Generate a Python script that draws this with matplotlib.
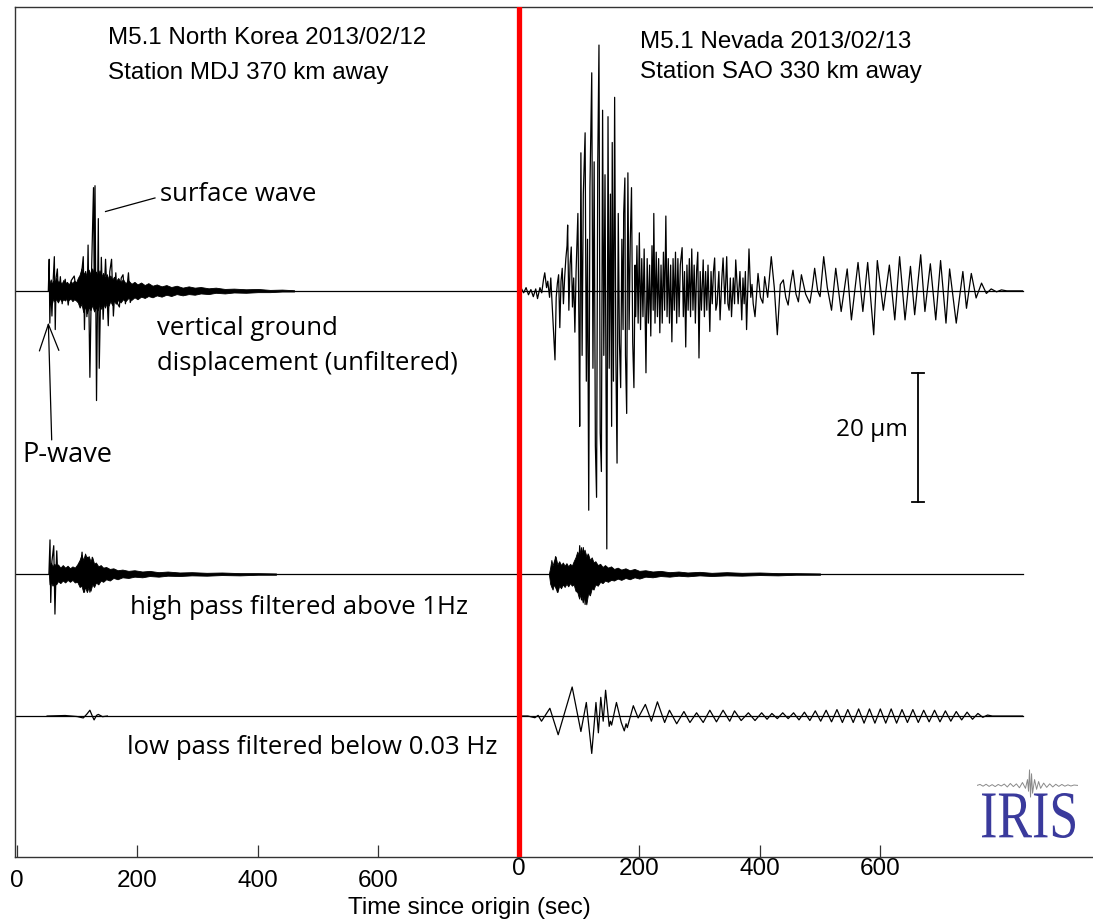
import matplotlib
matplotlib.use('Agg')
import matplotlib.pyplot as plt
from matplotlib.textpath import TextPath
from matplotlib.patches import PathPatch
from matplotlib.font_manager import FontProperties
from matplotlib.transforms import Affine2D, IdentityTransform
import numpy as np

# ---------------- data ----------------
# time (s) since origin, amplitude (micrometres)
SHIFT = 833.0           # start of the right (Nevada) panel in axis units
left_ticks = [0, 200, 400, 600]
right_ticks = [0, 200, 400, 600]

# North Korea, unfiltered: dense envelope (t, high, low) + resolved spikes (t, a)
nk_raw_env = [(53, 0.1, -0.1), (54, 1.2, -1.5), (56, 1.8, -1.0), (58, 1.0, -2.0), (60, 1.6, -1.2),
              (62, 1.2, -1.6), (65, 2.0, -1.3), (68, 1.4, -1.8), (71, 1.5, -1.2), (74, 1.1, -1.6),
              (77, 1.7, -1.3), (80, 1.2, -1.5), (83, 1.4, -1.0), (86, 1.0, -1.4), (89, 1.5, -1.2),
              (92, 1.2, -1.6), (95, 1.6, -1.3), (98, 1.3, -1.5), (101, 2.0, -1.8), (104, 2.5, -2.6),
              (107, 3.5, -2.0), (110, 2.6, -3.3), (113, 3.0, -2.4), (116, 2.2, -3.5), (119, 3.3, -2.5),
              (122, 2.6, -3.0), (125, 3.5, -2.2), (128, 2.5, -3.2), (131, 3.0, -2.6), (134, 2.4, -3.0),
              (137, 3.2, -2.0), (140, 2.2, -2.8), (143, 2.8, -1.9), (146, 2.0, -2.6), (149, 2.6, -1.8),
              (152, 1.8, -2.3), (155, 2.4, -1.6), (158, 1.7, -2.2), (161, 2.2, -1.5), (164, 1.5, -2.0),
              (168, 2.0, -1.4), (172, 1.4, -1.8), (176, 1.8, -1.3), (180, 1.2, -1.6), (185, 1.6, -1.1),
              (190, 1.1, -1.4), (195, 1.4, -1.0), (200, 1.0, -1.3), (206, 1.3, -0.9), (212, 0.9, -1.1),
              (218, 1.2, -0.8), (225, 0.8, -1.0), (232, 1.0, -0.7), (240, 0.7, -0.9), (248, 0.9, -0.6),
              (256, 0.6, -0.8), (265, 0.8, -0.5), (275, 0.5, -0.7), (285, 0.7, -0.5), (295, 0.5, -0.6),
              (305, 0.6, -0.4), (318, 0.4, -0.5), (330, 0.5, -0.3), (345, 0.3, -0.4), (360, 0.35, -0.25),
              (380, 0.25, -0.3), (400, 0.3, -0.2), (420, 0.15, -0.2), (440, 0.2, -0.1), (460, 0.1, -0.1)]
nk_raw_spk = [(52, 0), (53.5, 4.9), (54.5, -5.0), (56, 1.0), (58, -3.9), (60, 1.5),
              (62, 5.3), (63.5, -6.0), (65, 2.0), (67, 3.4), (69, -1.5), (72, 2.2), (75, -2.0),
              (80, 1.8), (85, -2.2), (90, 1.6), (95, 2.3), (100, -1.0), (104, 0.5), (108, 3.4),
              (110, 5.3), (112, -6.0), (114, 3.0), (116, -4.0), (118, 7.1), (121, -13.4), (124, 4.0),
              (127, 16.0), (128.5, -3.0), (129.5, 16.3), (132, -17.0), (135, 11.2), (136.5, -12.0),
              (140, 5.2), (143, -4.4), (147, 4.9), (151.5, -5.4), (154, 3.0), (157, 4.9), (160, -3.9),
              (164, 2.8), (167, -2.0), (170, -2.5), (173, 2.0), (176, 2.5), (180, -2.0), (185, 2.8),
              (188, -1.8), (195, 0)]

# Nevada, unfiltered: peak-to-peak trace (t, a)
nv_raw = [(0, 0), (4, 0.4), (8, -0.3), (12, 0.5), (16, -0.6), (20, 0.2), (24, -0.9), (28, 0.3),
          (31, -1.2), (35, 0.5), (38, -0.3), (41, 1.8), (43, 2.8), (46, 0.5), (48, 1.5), (51, -1.0),
          (53, 2.0), (56, -3.5), (60, -10.7), (62, -1.0), (64, 1.2), (66, 2.5), (68, -5.7),
          (70, 1.5), (72, 3.5), (74, -2.0), (76, 2.0), (78, 5.0), (80, 7.0), (81, 10.2), (83, -3.0),
          (85, 4.0), (87, 6.8), (89, -2.5), (91, 2.0), (93, -6.4), (95, 3.0), (98, 12.0), (100, -8.0),
          (101, -21.0), (103, 21.4), (105, -10.0), (107, 15.0), (110, 24.5), (112, -14.0),
          (114, 8.0), (116, -34.0), (118, 16.0), (121, 33.8), (123, -12.0), (125, 20.0),
          (127, -24.0), (129, -32.0), (131, 20.0), (133, 38.1), (135, -22.0), (137, -28.0),
          (139, 28.0), (141, -10.0), (143, 18.0), (146, -40.0), (148, 27.0), (150, -12.0),
          (152, 15.0), (154, -21.0), (155, 23.0), (157, -14.0), (159, 30.0), (161, -10.0),
          (163, -26.7), (165, 12.0), (167, -8.0), (169, -15.0), (171, 8.0), (173, -6.0), (174, 12.0),
          (176, 17.5), (177, -10.0), (179, -19.0), (181, 18.3), (183, -6.0), (185, 8.0),
          (187, 16.0), (189, -8.0), (191, -15.0), (193, 4.0), (194, -4.0), (196, 7.0), (198, -5.0),
          (200, 9.0), (202, -6.0), (204, 5.0), (206, -4.0), (208, 6.5), (211, -12.7), (213, 5.0),
          (215, -5.0), (217, 4.0), (219, -7.0), (221, 7.0), (223, -3.0), (224, 12.0), (226, -5.0),
          (228, 6.0), (230, -4.0), (232, 5.0), (234, -6.5), (236, 4.0), (238, -5.0), (240, 6.0),
          (242, -3.0), (244, 11.6), (246, -4.0), (248, 5.0), (250, -5.0), (252, 4.0), (254, -7.9),
          (256, 5.0), (258, -3.0), (260, 6.0), (262, -5.0), (264, 5.0), (266, -4.0), (268, 4.0),
          (271, 6.7), (273, -4.0), (275, 3.0), (277, -8.7), (279, 4.0), (281, -3.0), (283, 5.0),
          (285, -4.0), (287, 6.5), (289, -3.0), (291, 4.0), (293, -5.0), (295, 3.0), (297, 6.0),
          (299, -10.4), (301, 3.0), (303, -3.0), (306, 4.8), (308, -4.0), (310, 3.0), (312, -3.0),
          (314, 4.0), (317, -6.3), (319, 3.0), (321, -2.0), (323, 3.0), (325, 5.1), (327, -3.0),
          (329, -2.0), (332, 3.0), (334, -4.5), (337, 2.0), (339, 5.1), (342, -2.0), (345, 5.3),
          (347, -2.0), (349, -3.0), (351, 2.0), (353, -4.0), (356, 2.0), (358, -2.0), (360, 4.8),
          (364, -2.0), (367, 3.0), (370, -4.5), (372, 2.0), (374, -2.0), (376, 3.0), (378, -6.0),
          (382, 6.5), (385, -1.0), (387, 1.0), (389, -2.0), (392, -4.0), (397, 2.7), (401, -1.0),
          (405, -1.9), (408, 2.2), (413, -1.0), (419, 5.3), (424, 0.5), (429, -6.8), (434, 1.0),
          (439, 1.7), (443, -1.0), (447, -2.2), (451, 1.0), (455, 3.2), (460, -0.5), (464, -1.7),
          (469, 2.5), (476, -0.5), (483, -1.9), (487, 0.5), (491, 3.5), (496, 0.0), (500, -0.9),
          (506, 5.3), (512, 0.5), (519, -3.0), (526, 3.5), (535, -3.2), (545, 3.4), (552, -4.5),
          (563, 4.4), (571, -3.2), (579, 4.4), (589, -6.8), (595, 4.7), (605, -3.0), (615, 4.0),
          (624, -4.5), (632, 5.3), (641, -4.5), (650, 3.8), (657, -3.7), (667, 5.6), (674, -3.2),
          (683, 4.2), (692, -4.5), (700, 4.7), (709, -5.0), (715, 3.4), (726, -5.0), (737, 3.0),
          (743, -2.7), (751, 2.7), (759, -1.1), (768, 1.2), (776, -0.4), (784, 0.3), (793, -0.15),
          (801, 0.15), (810, 0), (836, 0)]

# High pass (> 1 Hz)
nk_hp_env = [(53, 0.1, -0.1), (54, 1.2, -1.6), (56, 1.8, -1.2), (59, 1.2, -1.8), (62, 1.6, -1.3),
             (65, 1.2, -1.6), (68, 1.5, -1.1), (72, 1.0, -1.4), (76, 1.4, -1.0), (80, 1.0, -1.3),
             (84, 1.3, -0.9), (88, 0.9, -1.2), (92, 1.2, -0.9), (96, 1.0, -1.3), (100, 1.5, -1.2),
             (104, 2.2, -2.0), (107, 3.0, -1.8), (110, 2.2, -2.8), (113, 3.2, -2.0), (116, 2.4, -2.8),
             (119, 2.8, -2.0), (122, 2.0, -2.6), (125, 2.6, -1.6), (128, 1.6, -2.0), (131, 1.8, -1.3),
             (135, 1.2, -1.6), (139, 1.4, -1.0), (143, 1.0, -1.2), (148, 1.1, -0.8), (154, 0.8, -1.0),
             (160, 0.9, -0.6), (167, 0.6, -0.8), (175, 0.7, -0.5), (185, 0.5, -0.6), (195, 0.6, -0.4),
             (208, 0.4, -0.5), (220, 0.5, -0.3), (235, 0.3, -0.4), (250, 0.4, -0.25), (270, 0.25, -0.3),
             (290, 0.3, -0.2), (315, 0.2, -0.25), (340, 0.25, -0.15), (370, 0.15, -0.2),
             (400, 0.15, -0.1), (430, 0.1, -0.1)]
nk_hp_spk = [(53, 0), (54.8, 5.3), (56, -4.4), (58, 2.0), (61, 4.4), (63, -6.2), (65, 1.0),
             (66, 3.6), (68, -1.0), (105, 0.5), (108, 3.4), (112, -2.8), (117, 2.6),
             (121, -2.8), (125, 2.6), (128, -1.0)]
nv_hp_env = [(50, 0.1, -0.1), (52, 1.0, -1.5), (54, 2.2, -2.0), (56, 1.3, -2.4), (58, 2.0, -1.6),
             (61, 2.7, -2.2), (64, 1.5, -2.8), (67, 2.0, -1.8), (70, 1.4, -2.2), (73, 1.8, -1.6),
             (76, 1.3, -2.0), (79, 1.7, -1.5), (82, 1.2, -1.9), (85, 1.6, -1.4), (88, 1.3, -1.8),
             (91, 2.0, -1.6), (94, 2.6, -2.6), (97, 3.5, -2.8), (100, 2.8, -3.8), (103, 4.2, -3.0),
             (106, 3.2, -4.4), (109, 3.8, -3.5), (112, 2.8, -4.7), (115, 3.1, -3.0), (118, 2.2, -3.3),
             (121, 2.6, -2.2), (124, 1.8, -2.4), (127, 2.0, -1.6), (131, 1.4, -1.8), (135, 1.6, -1.2),
             (139, 1.1, -1.4), (143, 1.4, -1.0), (148, 1.0, -1.2), (153, 1.2, -0.9), (158, 0.8, -1.0),
             (164, 1.0, -0.7), (170, 0.7, -0.9), (177, 0.9, -0.6), (184, 0.6, -0.8), (192, 0.8, -0.5),
             (200, 0.5, -0.7), (210, 0.6, -0.4), (222, 0.4, -0.5), (235, 0.5, -0.3), (250, 0.3, -0.4),
             (265, 0.4, -0.25), (280, 0.25, -0.35), (300, 0.35, -0.2), (320, 0.2, -0.3),
             (345, 0.3, -0.2), (370, 0.2, -0.25), (400, 0.25, -0.15), (430, 0.15, -0.2),
             (460, 0.15, -0.1), (500, 0.1, -0.1)]
nv_hp_spk = [(58, 0), (61, 2.7), (64, -2.8), (67, 0), (99, 0), (101, 4.4), (104, -4.0),
             (107, 4.1), (110, -4.7), (115, 3.1), (118, 0)]

# Low pass (< 0.03 Hz)
nk_lp = [(50, 0), (80, 0.08), (100, -0.08), (110, -0.3), (116, 0.3), (121, 0.9), (125, 0.0),
         (128, -0.6), (132, 0.1), (135, 0.25), (142, -0.1), (150, 0)]
nv_lp = [(0, 0), (15, 0), (26.6, -0.26), (32, 0.1), (37.6, -0.8), (51.5, 1.2), (65.3, -2.9),
         (88.5, 4.5), (103, -2.4), (112, 2.1), (121, -5.8), (128, 2.1), (132, -2.6), (136, 2.9),
         (140, -0.8), (144, 4.0), (150, -1.6), (152, -0.8), (154, -1.4), (162, 2.1), (170, -1.0),
         (175, -2.3), (178, -1.2), (180, -1.8), (190, 1.6), (198, -0.3), (210, 1.8), (220, -0.8),
         (230, 2.2), (242, -1.0), (250, 0.9), (262, -1.2), (274, 0.7), (284, -1.0), (295, 0.5),
         (306, -1.0), (317, 0.9), (328, -0.9), (339, 0.9), (350, -0.8), (358, 0.8), (369, -0.7),
         (381, 0.5), (392, -0.7), (403, 0.5), (412, -0.5), (420, 0.4), (429, -0.4), (438, 0.5),
         (447, -0.4), (456, 0.5), (465, -0.6), (474, 0.6), (483, -0.7), (492, 0.8), (501, -0.8),
         (510, 0.9), (519, -0.9), (528, 1.0), (537, -1.0), (546, 1.0), (555, -1.0), (564, 1.1),
         (573, -1.1), (582, 1.1), (591, -1.1), (600, 1.1), (609, -1.1), (618, 1.1), (627, -1.1),
         (636, 1.0), (645, -1.0), (654, 1.0), (663, -1.0), (672, 0.9), (681, -0.9), (690, 0.9),
         (699, -0.9), (708, 0.8), (717, -0.8), (726, 0.7), (735, -0.6), (744, 0.6), (753, -0.5),
         (762, 0.4), (770, -0.2), (778, 0.15), (786, 0), (836, 0)]

# tiny waveform on the IRIS logo
logo_wave = [(0, 0), (3, 0.5), (6, -0.4), (9, 0.6), (12, -0.5), (15, 0.4), (18, -0.6), (21, 0.5),
             (24, -0.3), (27, 0.7), (30, -0.8), (33, 1.0), (36, -0.6), (39, 0.8), (42, -1.2),
             (45, 1.5), (48, -1.5), (50, 3), (51, -3), (52, 8), (53, -6), (54, 6), (55, -4),
             (57, 3), (59, -2), (61, 2), (63, -1.5), (66, 1.2), (69, -1), (72, 0.8), (75, -0.8),
             (78, 0.6), (81, -0.5), (84, 0.5), (87, -0.4), (90, 0.3), (93, -0.3), (96, 0.2), (100, 0)]

# ---------------- figure ----------------
W, H = 1093, 922
fig = plt.figure(figsize=(W / 100, H / 100), dpi=100)
ax = fig.add_axes([15 / W, 1 - 857 / H, 1 - 15 / W, (857 - 7) / H])
ax.set_xlim(-3.3, 1786)
ax.set_ylim(-87.75, 44.0)

BASE_RAW, BASE_HP, BASE_LP = 0.0, -43.9, -65.9
LEFT_END = SHIFT
RIGHT_END = SHIFT + 836
LW = 0.9


def trace(pairs, shift, base):
    t = np.array([p[0] for p in pairs]) + shift
    a = np.array([p[1] for p in pairs]) + base
    ax.plot(t, a, color='black', lw=LW, zorder=3)


def envelope(rows, shift, base):
    t = np.array([r[0] for r in rows]) + shift
    hi = np.array([r[1] for r in rows]) + base
    lo = np.array([r[2] for r in rows]) + base
    ax.fill_between(t, lo, hi, color='black', lw=0.6, zorder=3)


for base in (BASE_RAW, BASE_HP, BASE_LP):
    ax.plot([-3.3, LEFT_END], [base, base], color='black', lw=LW, zorder=2)
    ax.plot([SHIFT, RIGHT_END], [base, base], color='black', lw=LW, zorder=2)

envelope(nk_raw_env, 0, BASE_RAW)
trace(nk_raw_spk, 0, BASE_RAW)
trace(nv_raw, SHIFT, BASE_RAW)
envelope(nk_hp_env, 0, BASE_HP)
trace(nk_hp_spk, 0, BASE_HP)
envelope(nv_hp_env, SHIFT, BASE_HP)
trace(nv_hp_spk, SHIFT, BASE_HP)
trace(nk_lp, 0, BASE_LP)
trace(nv_lp, SHIFT, BASE_LP)

# red divider
ax.axvline(SHIFT, color='#ff0000', lw=3.8, zorder=5)

# scale bar 20 micrometres
sb_t, sb_top, sb_bot = SHIFT + 662, -12.7, -32.7
ax.plot([sb_t, sb_t], [sb_top, sb_bot], color='black', lw=1.3)
ax.plot([sb_t - 10, sb_t + 10], [sb_top, sb_top], color='black', lw=1.3)
ax.plot([sb_t - 10, sb_t + 10], [sb_bot, sb_bot], color='black', lw=1.3)

HELV = ['Liberation Sans', 'DejaVu Sans']
HUM = ['Open Sans', 'DejaVu Sans']
ANN = 18.5
HDR = 17.4
ax.text(sb_t - 17, -21.5, '20 µm', ha='right', va='center', fontsize=17.5, family=HUM)

# headers
ax.text(151, 39.2, 'M5.1 North Korea 2013/02/12', ha='left', va='center', fontsize=HDR, family=HELV)
ax.text(151, 33.8, 'Station MDJ 370 km away', ha='left', va='center', fontsize=HDR, family=HELV)
ax.text(SHIFT + 201, 38.6, 'M5.1 Nevada 2013/02/13', ha='left', va='center', fontsize=HDR, family=HELV)
ax.text(SHIFT + 201, 34.0, 'Station SAO 330 km away', ha='left', va='center', fontsize=HDR, family=HELV)

# annotations
ax.text(237, 14.9, 'surface wave', ha='left', va='center', fontsize=ANN, family=HUM)
ax.plot([147, 229], [12.3, 14.4], color='black', lw=0.9)
ax.text(232, -5.9, 'vertical ground', ha='left', va='center', fontsize=ANN, family=HUM)
ax.text(232, -11.3, 'displacement (unfiltered)', ha='left', va='center', fontsize=ANN, family=HUM)
ax.text(8.3, -25.4, 'P-wave', ha='left', va='center', fontsize=19.5, family=HUM)
ax.annotate('', xy=(52, -4.9), xytext=(57.6, -23.1),
            arrowprops=dict(arrowstyle='->,head_length=1.9,head_width=0.7', color='black',
                            lw=0.9, shrinkA=0, shrinkB=0, mutation_scale=10))
ax.text(187.5, -49.0, 'high pass filtered above 1Hz', ha='left', va='center', fontsize=ANN, family=HUM)
ax.text(182.6, -70.7, 'low pass filtered below 0.03 Hz', ha='left', va='center', fontsize=ANN, family=HUM)

# axes styling
TICK_FS = 17.5
ax.spines['right'].set_visible(False)
for s in ('left', 'top', 'bottom'):
    ax.spines[s].set_color('#333333')
    ax.spines[s].set_linewidth(1.0)
ax.set_yticks([])
ax.set_xticks(left_ticks)
ax.set_xticklabels([str(v) for v in left_ticks])
ax.tick_params(axis='x', direction='in', length=8.5, width=0.9, color='#333333',
               labelsize=TICK_FS, pad=9)
for lab in ax.get_xticklabels():
    lab.set_family(HELV)

sec = ax.secondary_xaxis('bottom', functions=(lambda x: x - SHIFT, lambda x: x + SHIFT))
sec.set_xticks(right_ticks)
sec.set_xticklabels([str(v) for v in right_ticks])
sec.tick_params(axis='x', direction='in', length=8.5, width=0.9, color='#333333',
                labelsize=TICK_FS, pad=0.5)
sec.spines['bottom'].set_visible(False)
for lab in sec.get_xticklabels():
    lab.set_family(HELV)

fig.text(469 / W, 1 - 908 / H, 'Time since origin (sec)', ha='center', va='center',
         fontsize=17.5, family=HELV)

# IRIS logo
fp = FontProperties(family='Liberation Serif')
tp = TextPath((0, 0), 'IRIS', size=100, prop=fp)
ext = tp.get_extents()
x0p, x1p, ytp, ybp = 982, 1075, 793, 838
tr = (Affine2D().translate(-ext.x0, -ext.y0)
      .scale((x1p - x0p) / ext.width, (ybp - ytp) / ext.height)
      .translate(x0p, H - ybp))
fig.add_artist(PathPatch(tr.transform_path(tp), facecolor='#3a3a9c', edgecolor='none',
                         transform=IdentityTransform()))
lax = fig.add_axes([977 / W, 1 - 800 / H, 101 / W, 35 / H])
lax.plot([p[0] for p in logo_wave], [p[1] for p in logo_wave], color='#8a8a8a', lw=0.7)
lax.set_xlim(0, 100)
lax.set_ylim(-7.5, 10.5)
lax.axis('off')

fig.savefig('out.png', dpi=100)
